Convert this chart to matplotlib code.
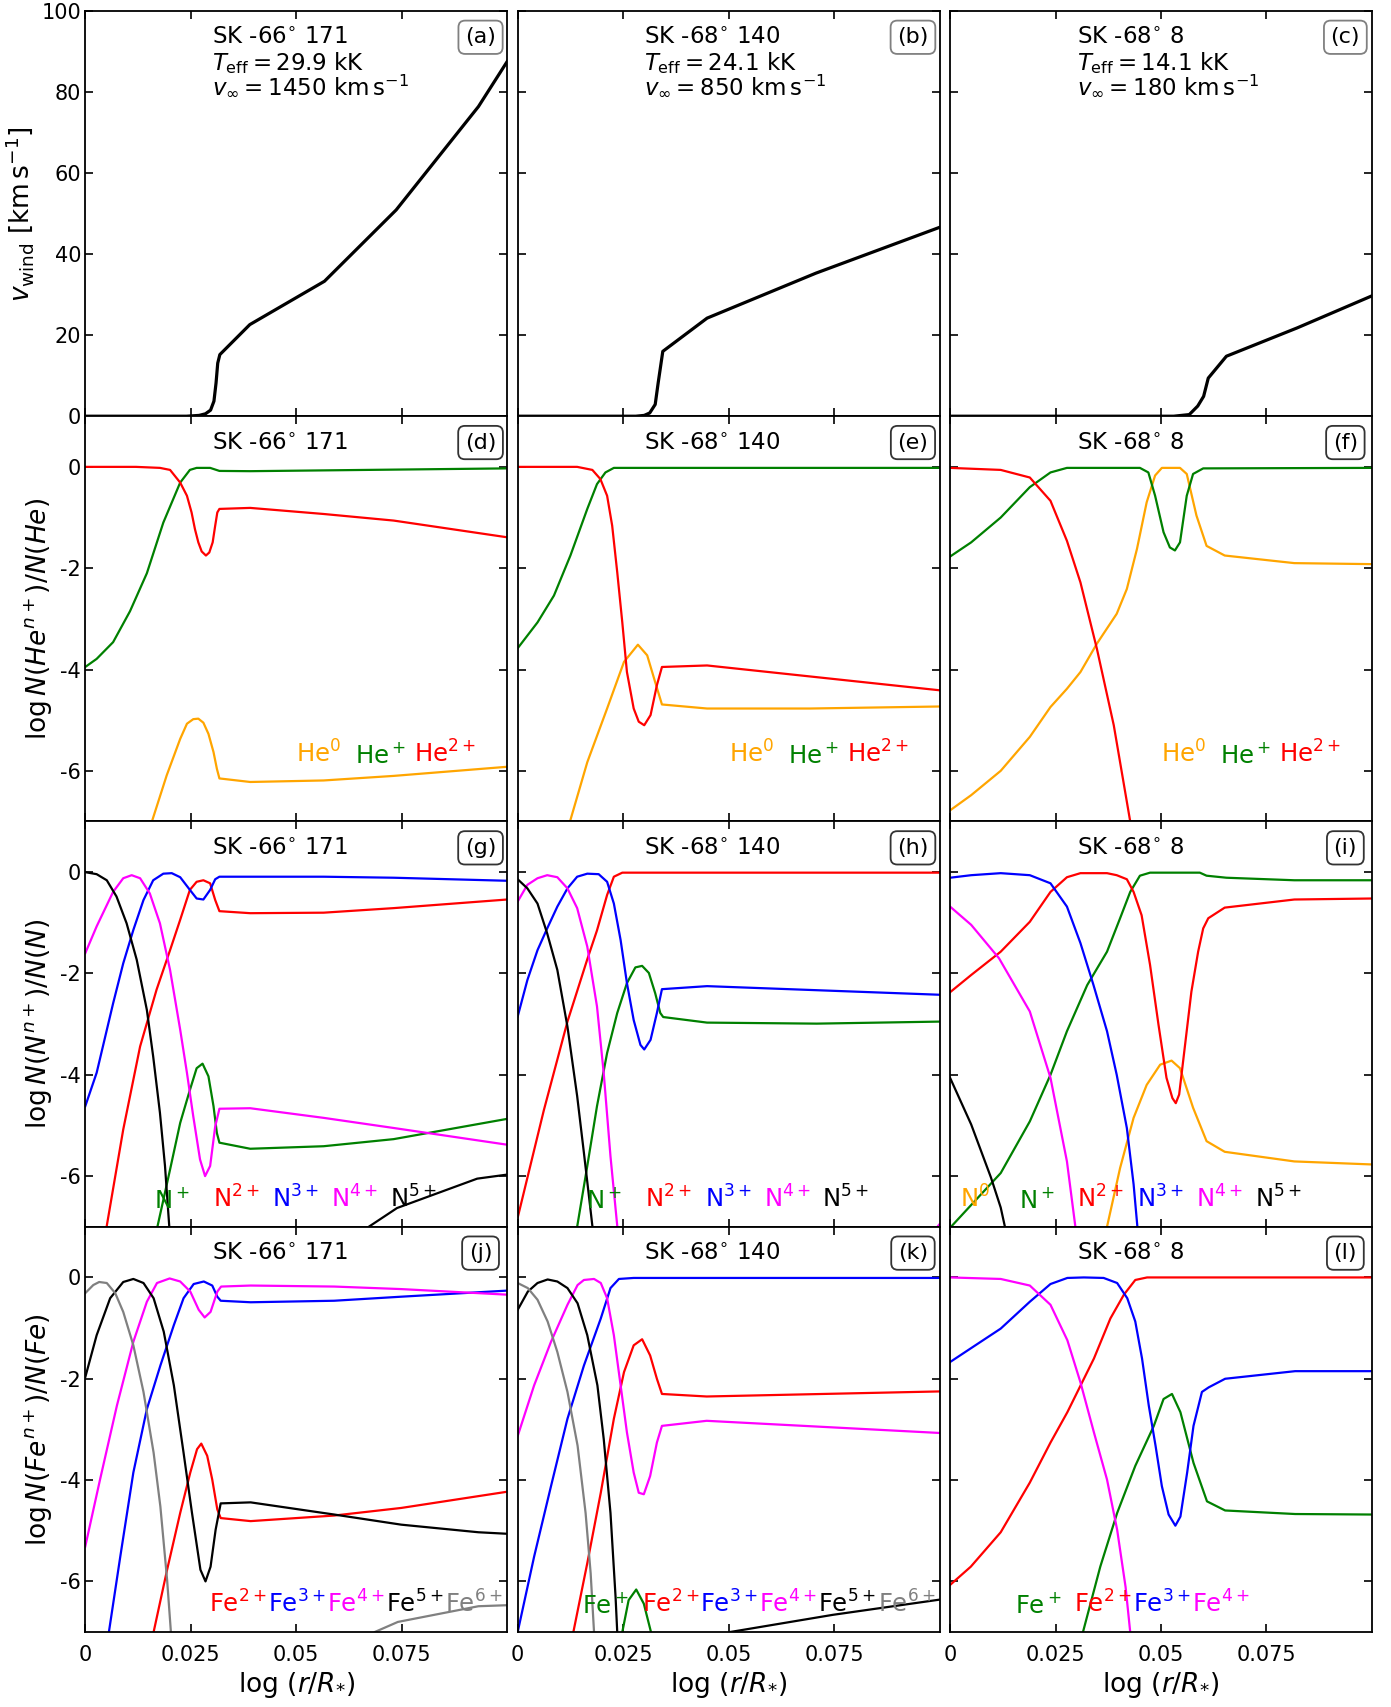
import matplotlib.pyplot as plt

plt.rcParams['axes.unicode_minus'] = False
plt.rcParams['mathtext.default'] = 'it'

# stars and model parameters
stars = ['SK -66$^{\\circ}$ 171', 'SK -68$^{\\circ}$ 140', 'SK -68$^{\\circ}$ 8']
teff_lines = ['$T_{\\rm eff} = 29.9$ kK', '$T_{\\rm eff} = 24.1$ kK', '$T_{\\rm eff} = 14.1$ kK']
vinf_lines = ['$v_{\\infty} = 1450\\ {\\rm km\\,s^{-1}}$',
              '$v_{\\infty} = 850\\ {\\rm km\\,s^{-1}}$',
              '$v_{\\infty} = 180\\ {\\rm km\\,s^{-1}}$']
panel_tags = ['(a)', '(b)', '(c)', '(d)', '(e)', '(f)', '(g)', '(h)', '(i)', '(j)', '(k)', '(l)']

xtick_vals = [0, 0.025, 0.05, 0.075]
xtick_text = ['0', '0.025', '0.05', '0.075']

# ---- wind velocity ----
v_x_66 = [0, 0.0240, 0.0270, 0.0285, 0.0297, 0.0305, 0.0310, 0.0314, 0.0319, 0.0390, 0.0567, 0.0737, 0.0932, 0.1]
v_y_66 = [0, 0, 0.2, 0.6, 1.5, 3.7, 8.2, 13.1, 15.2, 22.6, 33.3, 50.9, 76.4, 87.5]
v_x_140 = [0, 0.0280, 0.0300, 0.0313, 0.0326, 0.0333, 0.0344, 0.0449, 0.0707, 0.1]
v_y_140 = [0, 0, 0.2, 0.8, 2.9, 8.2, 16.0, 24.2, 35.3, 46.6]
v_x_8 = [0, 0.0530, 0.0567, 0.0587, 0.0601, 0.0612, 0.0655, 0.0823, 0.1]
v_y_8 = [0, 0, 0.4, 2.5, 4.9, 9.4, 14.8, 21.8, 29.7]

# ---- helium ionisation fractions ----
he0_x_66 = [0.0100, 0.0158, 0.0193, 0.0225, 0.0241, 0.0256, 0.0268, 0.0280, 0.0292, 0.0304, 0.0312, 0.0318,
            0.0391, 0.0565, 0.0731, 0.1]
he0_y_66 = [-9.0, -7.0, -6.09, -5.37, -5.07, -4.98, -4.97, -5.05, -5.27, -5.63, -5.96, -6.15,
            -6.22, -6.19, -6.10, -5.92]
he1_x_66 = [0, 0.0027, 0.0066, 0.0106, 0.0146, 0.0185, 0.0225, 0.0248, 0.0264, 0.0296, 0.0318, 0.0391, 0.1]
he1_y_66 = [-3.95, -3.79, -3.46, -2.85, -2.10, -1.10, -0.31, -0.06, -0.02, -0.02, -0.08, -0.085, -0.03]
he2_x_66 = [0, 0.0120, 0.0177, 0.0201, 0.0225, 0.0241, 0.0252, 0.0260, 0.0268, 0.0276, 0.0286, 0.0294, 0.0302,
            0.0308, 0.0313, 0.0318, 0.0391, 0.0565, 0.0731, 0.1]
he2_y_66 = [0, 0, -0.02, -0.06, -0.31, -0.57, -0.90, -1.23, -1.49, -1.67, -1.75, -1.69, -1.49,
            -1.16, -0.90, -0.83, -0.81, -0.93, -1.06, -1.39]

he0_x_140 = [0.0100, 0.0124, 0.0165, 0.0212, 0.0252, 0.0285, 0.0307, 0.0326, 0.0342, 0.0449, 0.0693, 0.1]
he0_y_140 = [-7.8, -7.0, -5.83, -4.77, -3.85, -3.51, -3.72, -4.25, -4.69, -4.77, -4.77, -4.73]
he1_x_140 = [0, 0.0047, 0.0086, 0.0125, 0.0165, 0.0188, 0.0208, 0.0228, 0.1]
he1_y_140 = [-3.58, -3.07, -2.54, -1.75, -0.83, -0.34, -0.11, -0.02, -0.02]
he2_x_140 = [0, 0.0141, 0.0177, 0.0196, 0.0212, 0.0224, 0.0236, 0.0248, 0.0259, 0.0275, 0.0287, 0.0300, 0.0315,
             0.0330, 0.0342, 0.0449, 0.1]
he2_y_140 = [0, 0, -0.06, -0.24, -0.57, -1.16, -2.08, -3.07, -4.05, -4.77, -5.03, -5.10, -4.90,
             -4.31, -3.95, -3.92, -4.41]

he0_x_8 = [0, 0.0050, 0.0120, 0.0189, 0.0238, 0.0277, 0.0309, 0.0348, 0.0395, 0.0419, 0.0443, 0.0466, 0.0486, 0.0502,
           0.0545, 0.0561, 0.0584, 0.0608, 0.0651, 0.0816, 0.1]
he0_y_8 = [-6.78, -6.48, -6.0, -5.33, -4.74, -4.38, -4.05, -3.49, -2.9, -2.41, -1.62, -0.7, -0.17, -0.02,
           -0.02, -0.14, -0.96, -1.56, -1.75, -1.9, -1.92]
he1_x_8 = [0, 0.0050, 0.0120, 0.0189, 0.0238, 0.0277, 0.0450, 0.0470, 0.0486, 0.0506, 0.0521, 0.0533, 0.0545, 0.0561,
           0.0576, 0.0600, 0.1]
he1_y_8 = [-1.77, -1.49, -1.0, -0.40, -0.11, -0.02, -0.02, -0.11, -0.57, -1.29, -1.59, -1.65, -1.49, -0.57,
           -0.14, -0.03, -0.02]
he2_x_8 = [0, 0.0120, 0.0189, 0.0238, 0.0277, 0.0309, 0.0348, 0.0388, 0.0427, 0.0450]
he2_y_8 = [-0.02, -0.06, -0.21, -0.67, -1.46, -2.28, -3.59, -5.10, -7.0, -8.5]

# ---- nitrogen ionisation fractions ----
n1_x_66 = [0.0165, 0.0171, 0.0201, 0.0225, 0.0248, 0.0264, 0.0278, 0.0292, 0.0304, 0.0312, 0.0318, 0.0391, 0.0565,
           0.0731, 0.1]
n1_y_66 = [-7.4, -7.0, -5.87, -4.95, -4.30, -3.87, -3.78, -4.03, -4.62, -5.15, -5.34, -5.46, -5.41,
           -5.27, -4.87]
n2_x_66 = [0.0045, 0.0051, 0.0090, 0.0130, 0.0169, 0.0201, 0.0225, 0.0248, 0.0264, 0.0280, 0.0296, 0.0308, 0.0318,
           0.0391, 0.0565, 0.0731, 0.1]
n2_y_66 = [-7.4, -6.98, -5.08, -3.44, -2.32, -1.54, -0.94, -0.35, -0.19, -0.16, -0.22, -0.55, -0.77,
           -0.81, -0.80, -0.71, -0.54]
n3_x_66 = [0, 0.0027, 0.0066, 0.0090, 0.0114, 0.0138, 0.0161, 0.0185, 0.0205, 0.0225, 0.0248, 0.0264, 0.0280, 0.0296,
           0.0308, 0.0318, 0.0565, 0.0731, 0.1]
n3_y_66 = [-4.62, -3.96, -2.59, -1.80, -1.14, -0.55, -0.16, -0.03, -0.02, -0.10, -0.35, -0.52, -0.54, -0.35,
           -0.14, -0.09, -0.09, -0.11, -0.17]
n4_x_66 = [0, 0.0027, 0.0066, 0.0090, 0.0110, 0.0130, 0.0153, 0.0177, 0.0201, 0.0225, 0.0241, 0.0256, 0.0272, 0.0284,
           0.0296, 0.0308, 0.0318, 0.0391, 0.0565, 0.0731, 0.1]
n4_y_66 = [-1.60, -1.07, -0.39, -0.12, -0.06, -0.12, -0.42, -1.01, -1.93, -3.11, -3.96, -4.82, -5.67, -6.00,
           -5.80, -5.02, -4.67, -4.66, -4.85, -5.05, -5.38]
n5_x_66 = [0, 0.0027, 0.0051, 0.0074, 0.0098, 0.0122, 0.0146, 0.0161, 0.0177, 0.0189, 0.0199, 0.0210, 0.040, 0.0640,
           0.0672, 0.0739, 0.0929, 0.1]
n5_y_66 = [0, -0.04, -0.16, -0.48, -1.01, -1.73, -2.72, -3.64, -4.75, -5.80, -6.98, -8.0, -12.0, -7.8,
           -7.0, -6.63, -6.05, -5.97]

n1_x_140 = [0.0125, 0.0141, 0.0165, 0.0188, 0.0212, 0.0236, 0.0259, 0.0279, 0.0295, 0.0311, 0.0326, 0.0338, 0.0345,
            0.0449, 0.0709, 0.1]
n1_y_140 = [-8.0, -7.0, -5.80, -4.62, -3.57, -2.78, -2.19, -1.88, -1.85, -1.99, -2.39, -2.78, -2.86,
            -2.97, -2.99, -2.95]
n2_x_140 = [0, 0.0062, 0.0118, 0.0165, 0.0188, 0.0212, 0.0228, 0.0248, 0.1]
n2_y_140 = [-6.82, -4.70, -2.95, -1.72, -1.15, -0.45, -0.09, -0.01, -0.01]
n3_x_140 = [0, 0.0023, 0.0047, 0.0070, 0.0094, 0.0118, 0.0141, 0.0165, 0.0192, 0.0212, 0.0228, 0.0244, 0.0259, 0.0275,
            0.0291, 0.0300, 0.0315, 0.0330, 0.0342, 0.0449, 0.1]
n3_y_140 = [-2.85, -2.13, -1.54, -1.11, -0.68, -0.32, -0.09, -0.03, -0.04, -0.19, -0.62, -1.34, -2.19, -2.92,
            -3.41, -3.50, -3.31, -2.78, -2.31, -2.25, -2.42]
n4_x_140 = [0, 0.0023, 0.0047, 0.0070, 0.0094, 0.0118, 0.0141, 0.0165, 0.0188, 0.0204, 0.0220, 0.0236, 0.0260,
            0.0600, 0.0990, 0.1]
n4_y_140 = [-0.58, -0.25, -0.12, -0.06, -0.10, -0.32, -0.71, -1.47, -2.65, -3.97, -5.61, -6.98, -9.0,
            -9.0, -7.05, -6.95]
n5_x_140 = [0, 0.0023, 0.0047, 0.0070, 0.0094, 0.0118, 0.0141, 0.0157, 0.0169, 0.0177, 0.0190]
n5_y_140 = [-0.14, -0.32, -0.62, -1.21, -1.93, -3.05, -4.42, -5.54, -6.40, -6.98, -8.0]

n0_x_8 = [0.0350, 0.0372, 0.0403, 0.0435, 0.0466, 0.0498, 0.0525, 0.0545, 0.0576, 0.0608, 0.0651, 0.0816, 0.1]
n0_y_8 = [-8.0, -7.0, -5.84, -4.85, -4.20, -3.80, -3.72, -3.87, -4.65, -5.31, -5.52, -5.71, -5.77]
n1_x_8 = [0, 0.0120, 0.0189, 0.0238, 0.0277, 0.0325, 0.0372, 0.0403, 0.0427, 0.0450, 0.0474, 0.0592, 0.0608, 0.0655,
          0.0816, 0.1]
n1_y_8 = [-7.02, -5.94, -4.92, -4.0, -3.14, -2.23, -1.57, -0.91, -0.39, -0.07, -0.01, -0.01, -0.07, -0.11,
          -0.16, -0.16]
n2_x_8 = [0, 0.0050, 0.0120, 0.0189, 0.0238, 0.0277, 0.0309, 0.0372, 0.0395, 0.0419, 0.0435, 0.0454, 0.0474, 0.0494,
          0.0513, 0.0527, 0.0535, 0.0543, 0.0557, 0.0572, 0.0588, 0.0600, 0.0612, 0.0651, 0.0816, 0.1]
n2_y_8 = [-2.37, -2.03, -1.57, -0.98, -0.39, -0.10, -0.02, -0.02, -0.06, -0.14, -0.39, -0.85, -1.83, -3.01,
          -4.06, -4.46, -4.56, -4.39, -3.41, -2.36, -1.57, -1.11, -0.91, -0.70, -0.54, -0.52]
n3_x_8 = [0, 0.0050, 0.0120, 0.0189, 0.0238, 0.0277, 0.0309, 0.0340, 0.0372, 0.0395, 0.0419, 0.0435, 0.0444, 0.0455]
n3_y_8 = [-0.11, -0.06, -0.02, -0.06, -0.22, -0.68, -1.40, -2.23, -3.14, -4.00, -5.05, -6.16, -7.0, -8.5]
n4_x_8 = [0, 0.0050, 0.0116, 0.0189, 0.0238, 0.0277, 0.0297, 0.0310]
n4_y_8 = [-0.68, -1.04, -1.70, -2.75, -4.06, -5.71, -7.0, -8.0]
n5_x_8 = [0, 0.0050, 0.0097, 0.0120, 0.0130, 0.0140]
n5_y_8 = [-4.06, -4.98, -6.03, -6.62, -7.0, -7.6]

# ---- iron ionisation fractions ----
fe2_x_66 = [0.0150, 0.0162, 0.0194, 0.0225, 0.0249, 0.0265, 0.0275, 0.0289, 0.0301, 0.0313, 0.0321, 0.0392, 0.0590,
            0.0749, 0.1]
fe2_y_66 = [-7.8, -7.0, -5.77, -4.65, -3.85, -3.39, -3.28, -3.52, -3.99, -4.58, -4.75, -4.81, -4.70,
            -4.55, -4.23]
fe3_x_66 = [0.0050, 0.0056, 0.0083, 0.0114, 0.0146, 0.0178, 0.0210, 0.0233, 0.0257, 0.0281, 0.0301, 0.0313, 0.0321,
            0.0392, 0.0590, 0.0749, 0.1]
fe3_y_66 = [-7.4, -7.0, -5.51, -3.85, -2.60, -1.74, -0.94, -0.41, -0.13, -0.08, -0.16, -0.38, -0.46,
            -0.49, -0.46, -0.38, -0.26]
fe4_x_66 = [0, 0.0035, 0.0075, 0.0114, 0.0146, 0.0170, 0.0200, 0.0225, 0.0249, 0.0269, 0.0283, 0.0297, 0.0313, 0.0322,
            0.0392, 0.0590, 0.0749, 0.1]
fe4_y_66 = [-5.31, -3.99, -2.53, -1.27, -0.48, -0.11, -0.02, -0.08, -0.28, -0.64, -0.79, -0.68, -0.28, -0.18,
            -0.16, -0.18, -0.23, -0.34]
fe5_x_66 = [0, 0.0027, 0.0059, 0.0090, 0.0114, 0.0138, 0.0162, 0.0186, 0.0210, 0.0233, 0.0253, 0.0273, 0.0285, 0.0297,
            0.0309, 0.0321, 0.0392, 0.0590, 0.0749, 0.0932, 0.1]
fe5_y_66 = [-1.97, -1.14, -0.41, -0.09, -0.03, -0.11, -0.41, -1.07, -2.13, -3.46, -4.65, -5.77, -6.00, -5.71,
            -4.98, -4.46, -4.44, -4.68, -4.88, -5.03, -5.06]
fe6_x_66 = [0, 0.0019, 0.0033, 0.0051, 0.0071, 0.0090, 0.0114, 0.0138, 0.0162, 0.0178, 0.0194, 0.0203, 0.0215, 0.045,
            0.0660, 0.0686, 0.0741, 0.0932, 0.1]
fe6_y_66 = [-0.31, -0.15, -0.09, -0.11, -0.31, -0.68, -1.34, -2.26, -3.46, -4.52, -5.97, -7.0, -8.5, -12.0,
            -7.4, -7.0, -6.80, -6.49, -6.47]

fe1_x_140 = [0.0230, 0.0248, 0.0263, 0.0281, 0.0299, 0.0316, 0.0335]
fe1_y_140 = [-8.0, -7.0, -6.37, -6.16, -6.44, -7.0, -8.0]
fe2_x_140 = [0.0120, 0.0132, 0.0165, 0.0197, 0.0228, 0.0252, 0.0275, 0.0295, 0.0314, 0.0330, 0.0342, 0.0448, 0.1]
fe2_y_140 = [-7.8, -7.0, -5.64, -4.25, -2.79, -1.87, -1.34, -1.22, -1.54, -2.00, -2.30, -2.35, -2.25]
fe3_x_140 = [0, 0.0039, 0.0079, 0.0118, 0.0157, 0.0197, 0.0220, 0.0240, 0.0275, 0.1]
fe3_y_140 = [-7.0, -5.51, -4.12, -2.79, -1.74, -0.81, -0.21, -0.03, -0.01, -0.01]
fe4_x_140 = [0, 0.0039, 0.0079, 0.0118, 0.0142, 0.0157, 0.0181, 0.0197, 0.0212, 0.0228, 0.0244, 0.0259, 0.0275,
             0.0287, 0.0299, 0.0314, 0.0330, 0.0342, 0.0448, 0.1]
fe4_y_140 = [-3.13, -2.13, -1.27, -0.54, -0.15, -0.05, -0.03, -0.11, -0.41, -1.14, -2.13, -3.06, -3.85,
             -4.25, -4.28, -3.92, -3.26, -2.93, -2.83, -3.07]
fe5_x_140 = [0, 0.0024, 0.0047, 0.0071, 0.0094, 0.0118, 0.0142, 0.0165, 0.0189, 0.0204, 0.0220, 0.0232, 0.0236,
             0.0250, 0.040, 0.0490, 0.0503, 0.0747, 0.1]
fe5_y_140 = [-0.64, -0.28, -0.11, -0.04, -0.08, -0.21, -0.51, -1.14, -2.13, -3.19, -4.65, -6.30, -7.0,
             -9.0, -12.0, -7.5, -7.0, -6.66, -6.36]
fe6_x_140 = [0, 0.0024, 0.0047, 0.0071, 0.0094, 0.0118, 0.0142, 0.0161, 0.0173, 0.0181, 0.0195]
fe6_y_140 = [-0.11, -0.21, -0.44, -0.87, -1.47, -2.26, -3.32, -4.65, -5.84, -7.0, -8.5]

fe1_x_8 = [0.0290, 0.0315, 0.0356, 0.0396, 0.0439, 0.0483, 0.0506, 0.0526, 0.0546, 0.0577, 0.0609, 0.0652, 0.0818, 0.1]
fe1_y_8 = [-8.2, -7.0, -5.71, -4.65, -3.72, -2.93, -2.40, -2.30, -2.66, -3.66, -4.42, -4.60, -4.67, -4.68]
fe2_x_8 = [0, 0.0049, 0.0120, 0.0189, 0.0238, 0.0278, 0.0341, 0.0380, 0.0412, 0.0439, 0.0467, 0.1]
fe2_y_8 = [-6.07, -5.71, -5.03, -4.05, -3.26, -2.66, -1.60, -0.81, -0.34, -0.05, 0.0, 0.0]
fe3_x_8 = [0, 0.0049, 0.0120, 0.0189, 0.0238, 0.0278, 0.0317, 0.0364, 0.0396, 0.0420, 0.0439, 0.0455, 0.0471, 0.0487,
           0.0502, 0.0518, 0.0534, 0.0546, 0.0562, 0.0577, 0.0597, 0.0613, 0.0652, 0.0818, 0.1]
fe3_y_8 = [-1.67, -1.40, -1.01, -0.48, -0.13, -0.01, 0.0, -0.01, -0.11, -0.41, -0.87, -1.60, -2.53, -3.32,
           -4.12, -4.68, -4.90, -4.72, -3.85, -2.93, -2.26, -2.17, -2.00, -1.85, -1.85]
fe4_x_8 = [0, 0.0120, 0.0189, 0.0238, 0.0278, 0.0309, 0.0341, 0.0372, 0.0396, 0.0416, 0.0427, 0.0440]
fe4_y_8 = [0.0, -0.03, -0.16, -0.54, -1.24, -2.07, -3.06, -3.99, -4.98, -6.11, -7.0, -8.0]

# curves per panel: (colour, x, y)
vel_curves = [(v_x_66, v_y_66), (v_x_140, v_y_140), (v_x_8, v_y_8)]
he_curves = [
    [('orange', he0_x_66, he0_y_66), ('green', he1_x_66, he1_y_66), ('red', he2_x_66, he2_y_66)],
    [('orange', he0_x_140, he0_y_140), ('green', he1_x_140, he1_y_140), ('red', he2_x_140, he2_y_140)],
    [('orange', he0_x_8, he0_y_8), ('green', he1_x_8, he1_y_8), ('red', he2_x_8, he2_y_8)],
]
n_curves = [
    [('green', n1_x_66, n1_y_66), ('red', n2_x_66, n2_y_66), ('blue', n3_x_66, n3_y_66),
     ('magenta', n4_x_66, n4_y_66), ('black', n5_x_66, n5_y_66)],
    [('green', n1_x_140, n1_y_140), ('red', n2_x_140, n2_y_140), ('blue', n3_x_140, n3_y_140),
     ('magenta', n4_x_140, n4_y_140), ('black', n5_x_140, n5_y_140)],
    [('orange', n0_x_8, n0_y_8), ('green', n1_x_8, n1_y_8), ('red', n2_x_8, n2_y_8), ('blue', n3_x_8, n3_y_8),
     ('magenta', n4_x_8, n4_y_8), ('black', n5_x_8, n5_y_8)],
]
fe_curves = [
    [('red', fe2_x_66, fe2_y_66), ('blue', fe3_x_66, fe3_y_66), ('magenta', fe4_x_66, fe4_y_66),
     ('black', fe5_x_66, fe5_y_66), ('gray', fe6_x_66, fe6_y_66)],
    [('green', fe1_x_140, fe1_y_140), ('red', fe2_x_140, fe2_y_140), ('blue', fe3_x_140, fe3_y_140),
     ('magenta', fe4_x_140, fe4_y_140), ('black', fe5_x_140, fe5_y_140), ('gray', fe6_x_140, fe6_y_140)],
    [('green', fe1_x_8, fe1_y_8), ('red', fe2_x_8, fe2_y_8), ('blue', fe3_x_8, fe3_y_8),
     ('magenta', fe4_x_8, fe4_y_8)],
]

# ion labels: (text, colour, x in axes fraction)
he_labels = [('He$^0$', 'orange', 0.50), ('He$^+$', 'green', 0.64), ('He$^{2+}$', 'red', 0.78)]
n_labels_hot = [('N$^+$', 'green', 0.163), ('N$^{2+}$', 'red', 0.302), ('N$^{3+}$', 'blue', 0.443),
                ('N$^{4+}$', 'magenta', 0.583), ('N$^{5+}$', 'black', 0.722)]
n_labels_cool = [('N$^0$', 'orange', 0.023)] + n_labels_hot
fe_labels_66 = [('Fe$^{2+}$', 'red', 0.294), ('Fe$^{3+}$', 'blue', 0.433), ('Fe$^{4+}$', 'magenta', 0.573),
                ('Fe$^{5+}$', 'black', 0.713), ('Fe$^{6+}$', 'gray', 0.853)]
fe_labels_140 = [('Fe$^+$', 'green', 0.153)] + fe_labels_66
fe_labels_8 = fe_labels_140[:4]

fig, axes = plt.subplots(4, 3, figsize=(13.91, 17.07), dpi=100)
fig.subplots_adjust(left=0.0613, right=0.9863, top=0.9936, bottom=0.0439, wspace=0.025, hspace=0)

for row in range(4):
    for col in range(3):
        ax = axes[row, col]
        ax.set_xlim(0, 0.1)
        ax.set_xticks(xtick_vals)
        ax.set_xticklabels(xtick_text)
        if row == 0:
            ax.set_ylim(0, 100)
            ax.set_yticks([0, 20, 40, 60, 80, 100])
        else:
            ax.set_ylim(-7, 1)
            ax.set_yticks([-6, -4, -2, 0])
        ax.tick_params(direction='in', top=True, right=True, length=6, width=1.2, labelsize=15,
                       labelleft=(col == 0), labelbottom=(row == 3))
        ax.tick_params(axis='x', pad=9)
        ax.tick_params(axis='y', pad=3)
        for sp in ax.spines.values():
            sp.set_linewidth(1.3)
        tag_ec = '0.5' if row == 0 else '0.2'
        ax.text(0.937, 0.935, panel_tags[row * 3 + col], transform=ax.transAxes, ha='center', va='center',
                fontsize=16, bbox=dict(boxstyle='round,pad=0.3', fc='white', ec=tag_ec, lw=1.3))
        ax.text(0.30, 0.918, stars[col], transform=ax.transAxes, ha='left', va='baseline', fontsize=16.5)

# velocity row
for col in range(3):
    ax = axes[0, col]
    vx, vy = vel_curves[col]
    ax.plot(vx, vy, color='black', lw=2.3)
    ax.text(0.30, 0.855, teff_lines[col], transform=ax.transAxes, ha='left', va='baseline', fontsize=16.5)
    ax.text(0.30, 0.795, vinf_lines[col], transform=ax.transAxes, ha='left', va='baseline', fontsize=16.5)

# ionisation rows
row_curves = [he_curves, n_curves, fe_curves]
row_labels = [
    [he_labels, he_labels, he_labels],
    [n_labels_hot, n_labels_hot, n_labels_cool],
    [fe_labels_66, fe_labels_140, fe_labels_8],
]
row_label_y = [0.145, 0.047, 0.047]
for r in range(3):
    for col in range(3):
        ax = axes[r + 1, col]
        for colour, cx, cy in row_curves[r][col]:
            ax.plot(cx, cy, color=colour, lw=1.6)
        for text, colour, xpos in row_labels[r][col]:
            ax.text(xpos, row_label_y[r], text, color=colour, transform=ax.transAxes,
                    ha='left', va='baseline', fontsize=17.5)

axes[0, 0].set_ylabel('$v_{\\rm wind}$ $[{\\rm km\\,s^{-1}}]$', fontsize=19)
axes[1, 0].set_ylabel('$\\log N(He^{n+})/N(He)$', fontsize=19)
axes[2, 0].set_ylabel('$\\log N(N^{n+})/N(N)$', fontsize=19)
axes[3, 0].set_ylabel('$\\log N(Fe^{n+})/N(Fe)$', fontsize=19)
for col in range(3):
    axes[3, col].set_xlabel('$\\log\\,(r/R_{*})$', fontsize=19)

fig.savefig('out.png', dpi=100)
